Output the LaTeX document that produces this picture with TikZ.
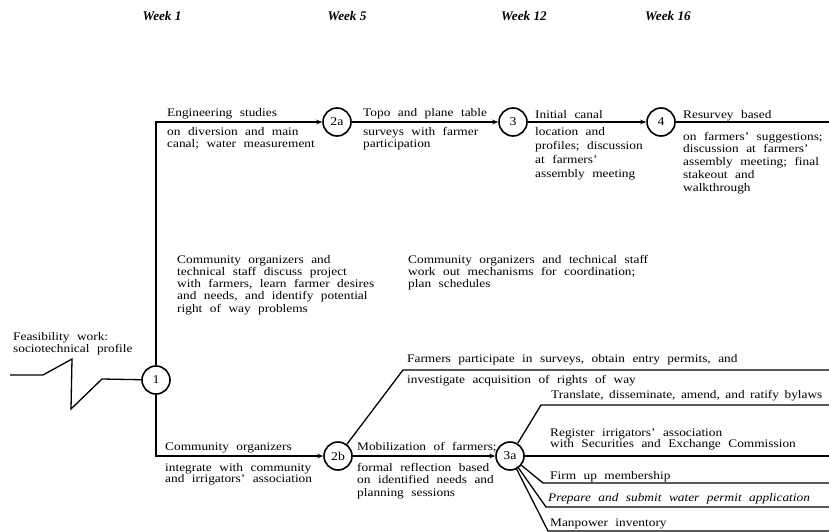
\documentclass[tikz,border=0pt]{standalone}
\usepackage{fontspec}
\setmainfont{Liberation Serif}[FakeStretch=1.15]
\newfontfamily\wkfont{Liberation Serif}
\usetikzlibrary{arrows.meta}
\newcommand\myTfont[1]{\fontsize{11.6pt}{#1pt}\selectfont\spaceskip=7.5pt plus 1pt\relax}
\newcommand\myTfontNarrow{\fontsize{11.6pt}{12.5pt}\selectfont\spaceskip=5.5pt plus 1pt\relax}
\tikzset{
  ln/.style={line width=1.3pt},
  arr/.style={ln,-{Stealth[length=6pt,width=4.6pt]}},
  evt/.style={circle,draw,line width=1.6pt,minimum size=28pt,inner sep=0pt,font=\fontsize{12pt}{13pt}\selectfont},
  lbl/.style={inner sep=0pt,anchor=base west,font=\myTfont{12.5}},
  blk/.style={inner sep=0pt,anchor=north west,align=left,font=\myTfont{#1}},
  blk/.default=12.5,
  wk/.style={inner sep=0pt,font=\wkfont\bfseries\itshape\fontsize{13.2pt}{14pt}\selectfont},
}
\begin{document}
\begin{tikzpicture}[x=1pt,y=-1pt]
\useasboundingbox[fill=white] (0,0) rectangle (829,532);

% week labels
\node[wk] (w1) at (162,16) {Week 1};
\node[wk] (w5) at (347,16) {Week 5};
\node[wk] (w12) at (524,16) {Week 12};
\node[wk] (w16) at (668,16) {Week 16};

% events
\node[evt] (c1) at (156,380) {1};
\node[evt] (c2a) at (337,122) {2a};
\node[evt] (c3) at (513,122) {3};
\node[evt] (c4) at (661,122) {4};
\node[evt] (c2b) at (338,456) {2b};
\node[evt] (c3a) at (510,456) {3a};

% helper coordinates
\coordinate (ktop) at (156,122);
\coordinate (kbot) at (156,456);
\coordinate (kend) at (829,122);
\coordinate (z0) at (10,375);
\coordinate (z1) at (43,375);
\coordinate (z2) at (72,359);
\coordinate (z3) at (71,409);
\coordinate (z4) at (102,379);
\coordinate (f0) at (403,370);
\coordinate (f1) at (829,370);
\coordinate (t0) at (541,405);
\coordinate (t1) at (829,405);
\coordinate (r1) at (829,456);
\coordinate (m0) at (543,483);
\coordinate (m1) at (829,483);
\coordinate (p0) at (546,507);
\coordinate (p1) at (829,507);
\coordinate (n0) at (548,531);
\coordinate (n1) at (829,531);

% connectors
\draw[arr] (c1) -- (ktop) -- (c2a);
\draw[arr] (c2a) -- (c3);
\draw[arr] (c3) -- (c4);
\draw[ln] (c4) -- (kend);
\draw[arr] (c1) -- (kbot) -- (c2b);
\draw[arr] (c2b) -- (c3a);
\draw[ln] (z0) -- (z1) -- (z2) -- (z3) -- (z4) -- (c1);
\draw[ln] (c2b) -- (f0) -- (f1);
\draw[ln] (c3a) -- (t0) -- (t1);
\draw[ln] (c3a) -- (r1);
\draw[ln] (c3a) -- (m0) -- (m1);
\draw[ln] (c3a) -- (p0) -- (p1);
\draw[ln] (c3a) -- (n0) -- (n1);

% texts
\node[lbl] (eng1) at (167,116.7) {Engineering studies};
\node[blk] (eng2) at (167,126.8) {on diversion and main\\canal; water measurement};
\node[lbl] (topo1) at (363,116.7) {Topo and plane table};
\node[blk] (topo2) at (363,126.8) {surveys with farmer\\participation};
\node[lbl] (init1) at (535,118.7) {Initial canal};
\node[blk=14] (init2) at (535,126.8) {location and\\profiles; discussion\\at farmers'\\assembly meeting};
\node[lbl] (res1) at (683,118.7) {Resurvey based};
\node[blk=12.75] (res2) at (683,131.8) {on farmers' suggestions;\\discussion at farmers'\\assembly meeting; final\\stakeout and\\walkthrough};
\node[blk=12.25] (com1) at (177,254.8) {Community organizers and\\technical staff discuss project\\with farmers, learn farmer desires\\and needs, and identify potential\\right of way problems};
\node[blk=12.25] (com2) at (408,254.8) {Community organizers and technical staff\\work out mechanisms for coordination;\\plan schedules};
\node[blk=12] (feas) at (13,331.8) {Feasibility work:\\sociotechnical profile};
\node[lbl] (farm1) at (407,362.7) {Farmers participate in surveys, obtain entry permits, and};
\node[lbl] (farm2) at (407,383.7) {investigate acquisition of rights of way};
\node[lbl] (co1) at (165,450.7) {Community organizers};
\node[blk=11.5] (co2) at (165,462.8) {integrate with community\\and irrigators' association};
\node[lbl] (mob1) at (357,450.7) {Mobilization of farmers;};
\node[blk] (mob2) at (357,462.8) {formal reflection based\\on identified needs and\\planning sessions};
\node[lbl,font=\myTfontNarrow] (tr) at (551,398.7) {Translate, disseminate, amend, and ratify bylaws};
\node[blk=11] (reg) at (550,428.8) {Register irrigators' association\\with Securities and Exchange Commission};
\node[lbl] (firm) at (550,479.7) {Firm up membership};
\node[lbl] (prep) at (548,501.7) {\itshape Prepare and submit water permit application};
\node[lbl] (man) at (550,526.7) {Manpower inventory};
\end{tikzpicture}
\end{document}
